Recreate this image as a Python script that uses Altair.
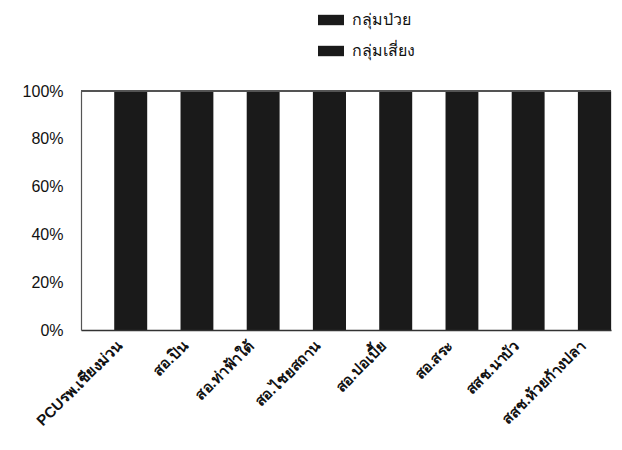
import altair as alt
import pandas as pd

categories = ["PCUรพ.เชียงม่วน", "สอ.ปิน", "สอ.ท่าฟ้าใต้", "สอ.ไชยสถาน",
              "สอ.ปอเบี้ย", "สอ.สระ", "สสช.นาบัว", "สสช.ห้วยก้างปลา"]
series = ["กลุ่มป่วย", "กลุ่มเสี่ยง"]
sick = [100, 100, 100, 100, 100, 100, 100, 100]
risk = [100, 100, 100, 100, 100, 100, 100, 100]

rows = []
for i, c in enumerate(categories):
    rows.append({"cat": c, "series": series[0], "value": sick[i]})
    rows.append({"cat": c, "series": series[1], "value": risk[i]})
df = pd.DataFrame(rows)

FONT = "Liberation Sans"

x = alt.X("cat:N", sort=categories, title=None,
          scale=alt.Scale(paddingInner=0, paddingOuter=0),
          axis=alt.Axis(labelAngle=-45, labelFontSize=15, labelFontWeight="bold",
                        labelColor="#111", ticks=False, domain=True, domainColor="#333",
                        domainWidth=1.5, zindex=1,
                        labelLimit=300, labelPadding=8, labelFont=FONT))
y = alt.Y("value:Q", title=None, scale=alt.Scale(domain=[0, 100]),
          axis=alt.Axis(values=[0, 20, 40, 60, 80, 100], labelExpr="datum.value + '%'",
                        labelFontSize=16, labelColor="#111", ticks=False, grid=False,
                        domain=True, domainColor="#555", domainWidth=1.2, zindex=1,
                        labelPadding=18, labelFont=FONT))
xo = alt.XOffset("series:N", sort=series)

base = alt.Chart(df).mark_bar(stroke=None).encode(
    x=x, y=y, xOffset=xo,
    color=alt.Color("series:N", sort=series,
                    scale=alt.Scale(domain=series, range=["#1a1a1a", "#1a1a1a"]),
                    legend=alt.Legend(title=None, orient="none", legendX=237, legendY=-84,
                                      direction="vertical", rowPadding=10,
                                      symbolType="M-1,-0.4H1V0.4H-1Z", symbolSize=676,
                                      symbolStrokeWidth=0, labelFontSize=16,
                                      labelColor="#111", labelFont=FONT, labelOffset=8)),
)
white = alt.Chart(df).transform_filter(
    alt.datum.series == series[0]
).mark_bar(fill="white", stroke=None).encode(x=x, y=y, xOffset=xo)

top = alt.Chart(df).mark_rule(color="#555", strokeWidth=1.2).encode(y=alt.datum(100))

chart = alt.layer(base, white, top).properties(
    width=530, height=239,
    autosize=alt.AutoSizeParams(type="none"),
    padding={"left": 73, "top": 83, "right": 3, "bottom": 110},
).configure_view(stroke=None).configure(font=FONT)

chart.save("out.html", embed_options={"renderer": "svg", "actions": False})
